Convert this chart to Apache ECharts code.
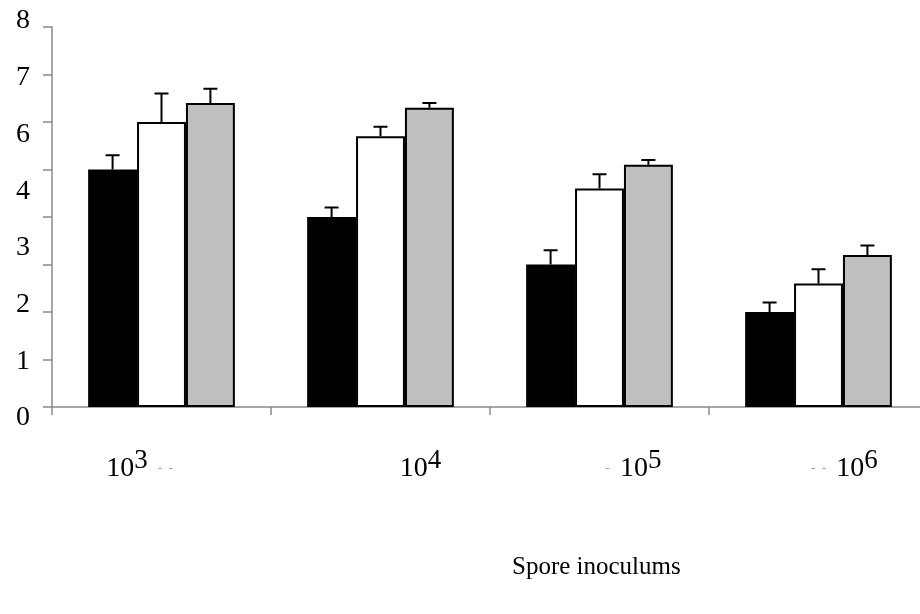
<!DOCTYPE html>
<html>
<head>
<meta charset="utf-8">
<title>Spore inoculums</title>
<script src="https://cdn.jsdelivr.net/npm/echarts@6/dist/echarts.min.js"></script>
<style>
  html, body { margin: 0; padding: 0; background: #fff; }
  #chart { width: 920px; height: 614px; }
</style>
</head>
<body>
<div id="chart"></div>
<script>
// Inoculum sizes (powers of ten) on the category axis
const categories = ['10^3', '10^4', '10^5', '10^6'];
// Small grey marks printed beside some category labels
const labelLead = ['', '', '-', '-  -'];
const labelTrail = ['-  -', '', '', ''];

// Y tick labels as printed along the value axis
const yTickLabels = ['0', '1', '2', '3', '4', '6', '7', '8'];

// Three treatments: mean values and upper error
const blackValues = [5.0, 4.0, 3.0, 2.0];
const blackErrors = [0.3, 0.2, 0.3, 0.2];
const whiteValues = [6.0, 5.7, 4.6, 2.6];
const whiteErrors = [0.6, 0.2, 0.3, 0.3];
const greyValues = [6.4, 6.3, 5.1, 3.2];
const greyErrors = [0.3, 0.1, 0.1, 0.2];

const FONT = '"Liberation Serif", "Times New Roman", serif';
const AXIS_GREY = '#898989';
const CATEGORY_GAP = 0.33;
const labelShift = [-22, 40, 34, 26];

const chart = echarts.init(document.getElementById('chart'), null, { renderer: 'canvas' });

function errorSeries(values, errors, order) {
  return {
    type: 'custom',
    xAxisIndex: 0,
    yAxisIndex: 0,
    z: 5,
    silent: true,
    data: values.map((v, i) => [i, v, errors[i]]),
    renderItem: function (params, api) {
      const idx = api.value(0);
      const val = api.value(1);
      const err = api.value(2);
      const base = api.coord([idx, val]);
      const top = api.coord([idx, val + err]);
      const catW = api.size([1, 0])[0];
      const barW = catW * (1 - CATEGORY_GAP) / 3;
      const x = base[0] + (order - 1) * barW;
      const half = 7;
      const style = { stroke: '#000', lineWidth: 2, fill: null };
      return {
        type: 'group',
        children: [
          { type: 'line', shape: { x1: x, y1: base[1], x2: x, y2: top[1] }, style: style },
          { type: 'line', shape: { x1: x - half, y1: top[1], x2: x + half, y2: top[1] }, style: style }
        ]
      };
    }
  };
}

const xData = categories.map((c, i) => ({
  value: c,
  textStyle: {
    padding: labelShift[i] >= 0 ? [0, 0, 0, 2 * labelShift[i]] : [0, -2 * labelShift[i], 0, 0]
  }
}));

const option = {
  backgroundColor: '#fff',
  animation: false,
  title: {
    text: 'Spore inoculums',
    left: 512,
    top: 555,
    padding: 0,
    textStyle: { fontFamily: FONT, fontSize: 25, fontWeight: 'normal', color: '#000' }
  },
  grid: [
    { left: 52, right: -8, top: 27, bottom: 207, containLabel: false, outerBoundsMode: 'none' },
    { left: 52, right: -8, top: 21, bottom: 196, containLabel: false, outerBoundsMode: 'none' }
  ],
  xAxis: [
    {
      type: 'category',
      gridIndex: 0,
      data: xData,
      axisLine: { lineStyle: { color: AXIS_GREY, width: 1.5 } },
      axisTick: { show: true, length: 8, interval: 0, lineStyle: { color: AXIS_GREY, width: 1.5 } },
      axisLabel: {
        interval: 0,
        margin: 40,
        color: '#000',
        fontFamily: FONT,
        formatter: function (value, i) {
          const parts = value.split('^');
          let s = '';
          if (labelLead[i]) s += '{d|' + labelLead[i] + '}{gap|}';
          s += '{n|' + parts[0] + '}{s|' + parts[1] + '}';
          if (labelTrail[i]) s += '{gap|}{d|' + labelTrail[i] + '}';
          return s;
        },
        rich: {
          n: { fontFamily: FONT, fontSize: 28, color: '#000' },
          s: { fontFamily: FONT, fontSize: 27, color: '#000', padding: [0, 0, 16, 0] },
          d: { fontFamily: FONT, fontSize: 13, color: '#9a9a9a' },
          gap: { width: 10 }
        }
      },
      splitLine: { show: false }
    },
    {
      type: 'value',
      gridIndex: 1,
      show: false
    }
  ],
  yAxis: [
    {
      type: 'value',
      gridIndex: 0,
      min: 0,
      max: 8,
      interval: 1,
      axisLine: { show: true, lineStyle: { color: AXIS_GREY, width: 1.5 } },
      axisTick: { show: true, length: 9, lineStyle: { color: AXIS_GREY, width: 1.5 } },
      axisLabel: { show: false },
      splitLine: { show: false }
    },
    {
      type: 'category',
      gridIndex: 1,
      data: yTickLabels,
      boundaryGap: false,
      axisLine: { show: false },
      axisTick: { show: false },
      splitLine: { show: false },
      axisLabel: {
        interval: 0,
        margin: 22,
        color: '#000',
        fontFamily: FONT,
        fontSize: 28
      }
    }
  ],
  series: [
    {
      type: 'bar',
      data: blackValues,
      barGap: '0%',
      barCategoryGap: (CATEGORY_GAP * 100) + '%',
      itemStyle: { color: '#000', borderColor: '#000', borderWidth: 0 },
      z: 2
    },
    {
      type: 'bar',
      data: whiteValues,
      barGap: '0%',
      barCategoryGap: (CATEGORY_GAP * 100) + '%',
      itemStyle: { color: '#fff', borderColor: '#000', borderWidth: 2 },
      z: 2
    },
    {
      type: 'bar',
      data: greyValues,
      barGap: '0%',
      barCategoryGap: (CATEGORY_GAP * 100) + '%',
      itemStyle: { color: '#bfbfbf', borderColor: '#000', borderWidth: 2 },
      z: 2
    },
    errorSeries(blackValues, blackErrors, 0),
    errorSeries(whiteValues, whiteErrors, 1),
    errorSeries(greyValues, greyErrors, 2)
  ]
};

chart.setOption(option);
</script>
</body>
</html>
